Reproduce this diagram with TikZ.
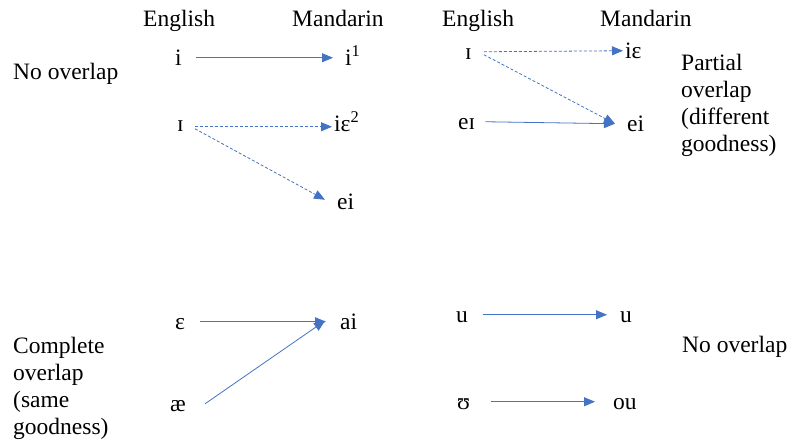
\documentclass[tikz,border=0pt]{standalone}
\usepackage{fontspec}
\setmainfont{Liberation Serif}
\usepackage{tikz}
\usetikzlibrary{arrows.meta}

\definecolor{arrowblue}{HTML}{4472C4}

\tikzset{
    ph/.style={anchor=base west, inner sep=0pt, text height=16.5pt, text depth=0pt},
    lbl/.style={anchor=base west, inner sep=0pt},
    blk/.style={anchor=north west, align=left, inner sep=0pt},
    solidarr/.style={-{Triangle[length=11pt,width=9pt]}, draw=arrowblue, line width=0.8pt},
    dasharr/.style={solidarr, dash pattern=on 3pt off 2pt}
}

\begin{document}
\begin{tikzpicture}[x=1pt, y=-1pt, font=\fontsize{23.5}{27}\selectfont]
    % Fix the page size
    \useasboundingbox (0,0) rectangle (788,446);

    % Column headings
    \node[lbl] (enL) at (143,27) {English};
    \node[lbl] (maL) at (292,27) {Mandarin};
    \node[lbl] (enR) at (442,27) {English};
    \node[lbl] (maR) at (600,27) {Mandarin};

    % Top left: no overlap
    \node[lbl] (noTop) at (13,80) {No overlap};
    \node[ph] (iEn) at (175,66) {i};
    \node[ph] (iMa) at (345,66) {i\textsuperscript{1}};
    \node[ph] (IEn) at (177,132) {ɪ};
    \node[ph] (ieMa) at (334,132) {iɛ\textsuperscript{2}};
    \node[ph] (eiMa) at (337,210) {ei};

    \draw[solidarr] ([xshift=14.5pt]iEn.east) -- ([xshift=-12pt]iMa.west);
    \draw[dasharr] ([xshift=11pt,yshift=-3pt]IEn.east) -- ([xshift=-2pt,yshift=-3pt]ieMa.west);
    \draw[dasharr] ([xshift=11pt,yshift=-5pt]IEn.east) -- ([xshift=-12pt,yshift=2pt]eiMa.west);

    % Top right: partial overlap
    \node[ph] (IEnR) at (465,60) {ɪ};
    \node[ph] (ieMaR) at (625,59) {iɛ};
    \node[ph] (eIEnR) at (458,130) {eɪ};
    \node[ph] (eiMaR) at (627,132) {ei};
    \node[blk] (partial) at (681,54) {Partial\\overlap\\(different\\goodness)};

    \draw[dasharr] ([xshift=12pt]IEnR.east) -- ([xshift=-2pt]ieMaR.west);
    \draw[dasharr] ([xshift=12pt,yshift=-3pt]IEnR.east) -- ([xshift=-12pt]eiMaR.west);
    \draw[solidarr] ([xshift=10pt]eIEnR.east) -- ([xshift=-12pt]eiMaR.west);

    % Bottom left: complete overlap
    \node[ph] (EEn) at (175,330) {ɛ};
    \node[ph] (aeEn) at (170,412) {æ};
    \node[ph] (aiMa) at (340,330) {ai};
    \node[blk] (complete) at (13,337) {Complete\\overlap\\(same\\goodness)};

    \draw[solidarr] ([xshift=15pt]EEn.east) -- ([xshift=-14pt]aiMa.west);
    \draw[solidarr] ([xshift=19pt]aeEn.east) -- ([xshift=-15pt,yshift=1pt]aiMa.west);

    % Bottom right: no overlap
    \node[ph] (uEn) at (456,323) {u};
    \node[ph] (uMa) at (620,323) {u};
    \node[ph] (UEn) at (457,410) {ʊ};
    \node[ph] (ouMa) at (613,410) {ou};
    \node[lbl] (noBot) at (682,353) {No overlap};

    \draw[solidarr] ([xshift=15pt]uEn.east) -- ([xshift=-13pt]uMa.west);
    \draw[solidarr] ([xshift=21pt]UEn.east) -- ([xshift=-18pt]ouMa.west);
\end{tikzpicture}
\end{document}
